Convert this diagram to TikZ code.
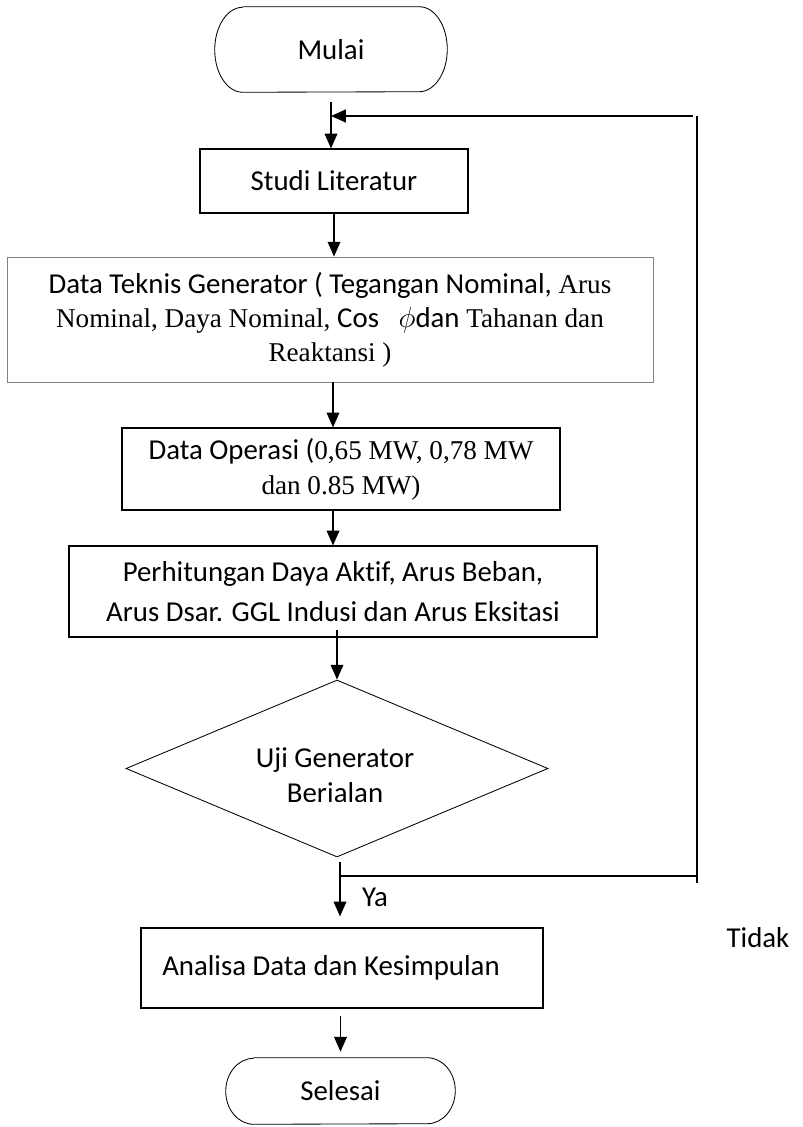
\documentclass[tikz,border=0pt]{standalone}
\usepackage{fontspec}
\setmainfont{Carlito}[Ligatures={TeX,NoCommon}]
\newfontfamily\tnr{Liberation Serif}
\usepackage{tikz}
\usetikzlibrary{shapes.geometric}
\usetikzlibrary{arrows.meta}

\definecolor{bordergray}{RGB}{130,130,130}
\newcommand{\tn}[1]{{\tnr\fontsize{19.3}{20}\selectfont #1}}

\begin{document}
\begin{tikzpicture}[
    box/.style={draw, rectangle, inner sep=0pt, line width=0.8pt, align=center},
    term/.style={rectangle, inner sep=0pt},
    arr/.style={-{Triangle[width=9pt,length=10.5pt]}, line width=0.9pt},
    loopline/.style={line width=1.4pt},
    every node/.style={font=\fontsize{20.5}{24.5}\selectfont}
  ]
  \useasboundingbox (0,0) rectangle (20.05,-28.175);

  \node[term, minimum width=5.8cm, minimum height=2.125cm] (mulai) at (8.275,-1.2375) {Mulai};
  \node[box, minimum width=6.7cm, minimum height=1.6cm] (studi) at (8.35,-4.525) {Studi Literatur};
  \node[box, draw=bordergray, line width=0.6pt, minimum width=16.15cm, minimum height=3.125cm,
        font=\fontsize{20.5}{24.2}\selectfont] (teknis) at (8.25,-7.9875)
    {Data Teknis Generator ( Tegangan Nominal,\tn{ Arus}\\
     \tn{Nominal, Daya Nominal, }Cos\ \ \ $\phi$dan\tn{ Tahanan dan}\\
     \tn{Reaktansi )}};
  \node[box, minimum width=10.95cm, minimum height=2.05cm,
        font=\fontsize{20.5}{24.9}\selectfont] (operasi) at (8.525,-11.725)
    {Data Operasi (\tn{0,65 MW, 0,78 MW}\\
     \tn{dan 0.85 MW)}};
  \node[box, minimum width=13.2cm, minimum height=2.275cm,
        font=\fontsize{20.5}{28.5}\selectfont] (perh) at (8.325,-14.7875)
    {Perhitungan Daya Aktif, Arus Beban,\\
     Arus Dsar. GGL Indusi dan Arus Eksitasi};
  \node[draw, diamond, inner sep=0pt, line width=0.6pt, minimum width=10.55cm, minimum height=4.425cm] (uji) at (8.425,-19.2125) {};
  \begin{scope}
    \clip (0,0) rectangle (20.05,-20.025);
    \node[align=center, font=\fontsize{20.5}{24.9}\selectfont] (ujitext) at (8.375,-19.4375) {Uji Generator\\Berjalan};
  \end{scope}
  \node[box, minimum width=10.05cm, minimum height=2cm] (analisa) at (8.55,-24.2) {\hspace*{-0.55cm}Analisa Data dan Kesimpulan};
  \node[term, minimum width=5.725cm, minimum height=1.65cm] (selesai) at (8.5125,-27.275) {Selesai};

  % terminator outlines with flat elliptic ends
  \foreach \t/\ry in {mulai/1.0625, selesai/0.825}{
    \draw[line width=0.6pt] ([xshift=0.7cm]\t.north west) -- ([xshift=-0.7cm]\t.north east)
      arc[start angle=90, end angle=-90, x radius=0.7cm, y radius=\ry cm]
      -- ([xshift=0.7cm]\t.south west)
      arc[start angle=270, end angle=90, x radius=0.7cm, y radius=\ry cm];
  }

  \node (ya) at (9.375,-22.425) {Ya};
  \node (tidak) at (18.95,-23.45) {Tidak};

  % loop back
  \coordinate (lr) at (17.425,-2.9);
  \coordinate (lb) at (17.425,-22.075);
  \coordinate (ujiout) at (8.5,-21.55);
  \coordinate (tidakjoin) at (8.5,-21.9);
  \draw[loopline] (lr) -- (lb);
  \draw[arr, line width=1.4pt] ([xshift=-0.1cm]lr) -- (lr -| mulai.south);
  \draw[loopline] (tidakjoin) -- (lb |- tidakjoin);

  \draw[arr, shorten <=0.25cm] (mulai.south) -- (mulai.south |- studi.north);
  \draw[arr] (studi.south) -- (studi.south |- teknis.north);
  \draw[arr] (operasi.north -| teknis.south) ++(0.075,0) coordinate (t2o) (t2o |- teknis.south) -- (t2o);
  \draw[arr] (perh.north |- operasi.south) -- (perh.north);
  \draw[arr] ([yshift=0.2cm]uji.north |- perh.south) -- (uji.north);
  \draw[arr, shorten >=0.275cm] (ujiout) -- (ujiout |- analisa.north);
  \draw[arr, shorten <=0.175cm, shorten >=0.15cm] (analisa.south -| selesai.north) -- (selesai.north);
\end{tikzpicture}
\end{document}
